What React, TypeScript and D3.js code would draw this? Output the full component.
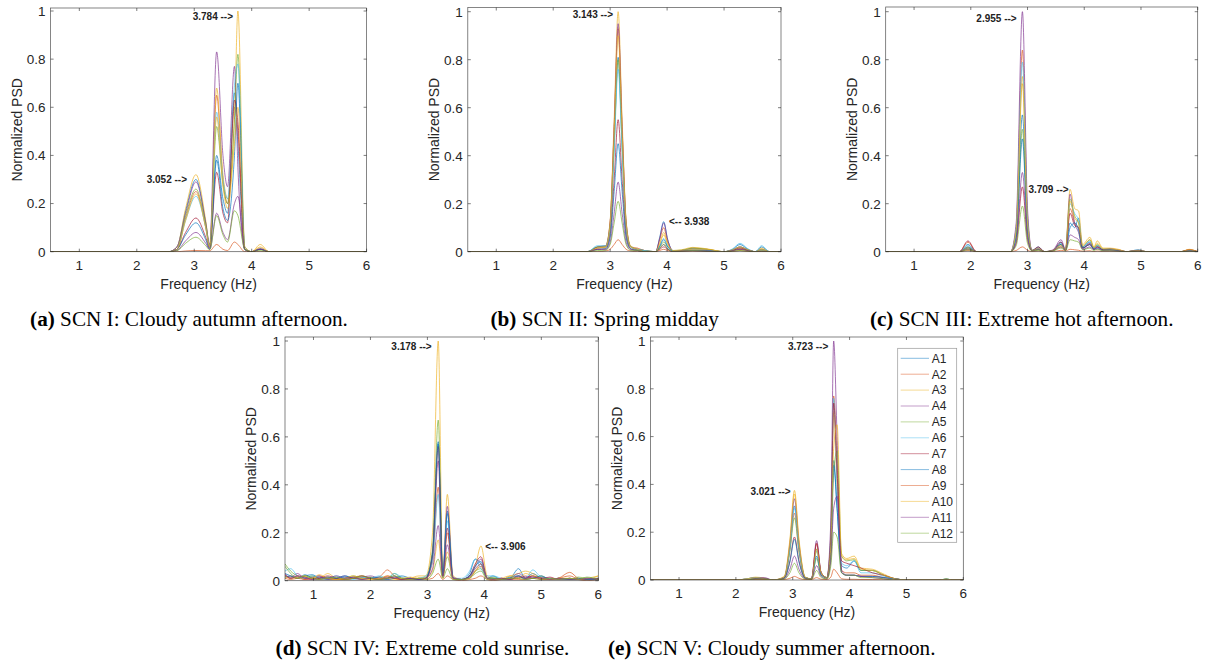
import * as d3 from "d3";
import React from "react";

// series names + MATLAB default colour order
const seriesNames = ["A1", "A2", "A3", "A4", "A5", "A6", "A7", "A8", "A9", "A10", "A11", "A12"];
const lineColors = ["#0072BD", "#D95319", "#EDB120", "#7E2F8E", "#77AC30", "#4DBEEE", "#A2142F"];

const xTicks = [1, 2, 3, 4, 5, 6];
const yTicks = [0, 0.2, 0.4, 0.6, 0.8, 1];

// (a) SCN I
const freqA = [0.5, 2.55, 2.7, 2.85, 3.03, 3.2, 3.27, 3.39, 3.5, 3.58, 3.7, 3.76, 3.88, 4.0, 4.15, 4.3, 6];
const psdA = [
  [0, 0, 0.02, 0.17, 0.3, 0.12, 0.02, 0.4, 0.22, 0.16, 0.66, 0.45, 0.01, 0, 0.01, 0, 0],
  [0, 0, 0.01, 0.14, 0.25, 0.1, 0.02, 0.65, 0.3, 0.2, 0.6, 0.5, 0.01, 0, 0.015, 0, 0],
  [0, 0, 0.02, 0.18, 0.32, 0.13, 0.02, 0.68, 0.32, 0.22, 0.55, 1.0, 0.02, 0, 0.03, 0, 0],
  [0, 0, 0.02, 0.16, 0.29, 0.12, 0.03, 0.83, 0.4, 0.27, 0.77, 0.35, 0.01, 0, 0.01, 0, 0],
  [0, 0, 0.01, 0.15, 0.26, 0.11, 0.02, 0.52, 0.28, 0.2, 0.55, 0.82, 0.01, 0, 0.01, 0, 0],
  [0, 0, 0.01, 0.13, 0.23, 0.1, 0.02, 0.58, 0.3, 0.22, 0.69, 0.78, 0.02, 0, 0.012, 0, 0],
  [0, 0, 0.01, 0.08, 0.14, 0.06, 0.015, 0.33, 0.16, 0.12, 0.63, 0.54, 0.01, 0, 0.01, 0, 0],
  [0, 0, 0.01, 0.07, 0.12, 0.05, 0.01, 0.38, 0.18, 0.13, 0.4, 0.7, 0.01, 0, 0.01, 0, 0],
  [0, 0, 0, 0.003, 0.005, 0.004, 0.004, 0.03, 0.01, 0.005, 0.04, 0.03, 0, 0, 0, 0, 0],
  [0, 0, 0.01, 0.13, 0.24, 0.1, 0.02, 0.56, 0.27, 0.18, 0.45, 0.6, 0.02, 0, 0.02, 0, 0],
  [0, 0, 0.005, 0.045, 0.08, 0.035, 0.01, 0.16, 0.08, 0.05, 0.2, 0.23, 0.01, 0, 0.01, 0, 0],
  [0, 0, 0.004, 0.035, 0.06, 0.025, 0.008, 0.15, 0.07, 0.04, 0.17, 0.15, 0.01, 0, 0.005, 0, 0],
];
const notesA = [
  { text: "3.784 -->", f: 3.675, v: 0.979, anchor: "end" },
  { text: "3.052 -->", f: 2.874, v: 0.302, anchor: "end" },
];

// (b) SCN II
const freqB = [0.5, 2.6, 2.78, 2.92, 3.0, 3.07, 3.14, 3.21, 3.28, 3.36, 3.48, 3.6, 3.8, 3.87, 3.94, 4.01, 4.1, 4.25, 4.45, 4.7, 5.0, 5.15, 5.28, 5.42, 5.55, 5.66, 5.8, 6];
const psdB = [
  [0, 0, 0.02, 0.02, 0.105, 0.45, 0.81, 0.45, 0.105, 0.02, 0.01, 0.005, 0, 0.06, 0.125, 0.05, 0.005, 0.005, 0.012, 0.008, 0, 0.01, 0.03, 0.01, 0, 0.02, 0, 0],
  [0, 0, 0.015, 0.02, 0.12, 0.51, 0.93, 0.51, 0.12, 0.02, 0.015, 0.005, 0, 0.05, 0.1, 0.04, 0.005, 0.005, 0.015, 0.01, 0, 0.008, 0.02, 0.008, 0, 0.01, 0, 0],
  [0, 0, 0.02, 0.025, 0.13, 0.55, 1.0, 0.55, 0.13, 0.025, 0.01, 0.005, 0, 0.03, 0.07, 0.03, 0.005, 0.008, 0.018, 0.012, 0, 0.006, 0.015, 0.006, 0, 0.015, 0, 0],
  [0, 0, 0.02, 0.025, 0.125, 0.52, 0.95, 0.52, 0.125, 0.02, 0.01, 0.005, 0, 0.055, 0.12, 0.05, 0.005, 0.005, 0.01, 0.006, 0, 0.004, 0.01, 0.004, 0, 0.005, 0, 0],
  [0, 0, 0.02, 0.02, 0.105, 0.44, 0.8, 0.44, 0.105, 0.02, 0.01, 0.005, 0, 0.02, 0.04, 0.02, 0.005, 0.006, 0.015, 0.01, 0, 0.005, 0.01, 0.005, 0, 0.005, 0, 0],
  [0, 0, 0.025, 0.025, 0.1, 0.42, 0.76, 0.42, 0.1, 0.02, 0.01, 0.005, 0, 0.025, 0.055, 0.025, 0.005, 0.004, 0.01, 0.006, 0, 0.012, 0.035, 0.012, 0, 0.025, 0, 0],
  [0, 0, 0.01, 0.012, 0.07, 0.3, 0.55, 0.3, 0.07, 0.012, 0.005, 0, 0, 0.01, 0.02, 0.01, 0, 0.003, 0.005, 0.003, 0, 0.005, 0.015, 0.005, 0, 0, 0, 0],
  [0, 0, 0.01, 0.012, 0.06, 0.25, 0.45, 0.25, 0.06, 0.012, 0.005, 0, 0, 0.022, 0.05, 0.02, 0.003, 0.003, 0.005, 0.003, 0, 0.007, 0.02, 0.007, 0, 0.01, 0, 0],
  [0, 0, 0, 0.003, 0.01, 0.03, 0.05, 0.03, 0.01, 0.003, 0, 0, 0, 0.005, 0.01, 0.005, 0, 0, 0, 0, 0, 0, 0.005, 0, 0, 0, 0, 0],
  [0, 0, 0.015, 0.02, 0.12, 0.5, 0.9, 0.5, 0.12, 0.02, 0.01, 0, 0, 0.035, 0.08, 0.035, 0.005, 0.005, 0.01, 0.01, 0, 0.008, 0.02, 0.008, 0, 0.01, 0, 0],
  [0, 0, 0.01, 0.008, 0.04, 0.16, 0.29, 0.16, 0.04, 0.008, 0.005, 0, 0, 0.014, 0.03, 0.012, 0, 0.003, 0.005, 0.002, 0, 0.004, 0.01, 0.004, 0, 0, 0, 0],
  [0, 0, 0.005, 0.006, 0.03, 0.12, 0.21, 0.12, 0.03, 0.006, 0.005, 0, 0, 0.014, 0.03, 0.012, 0, 0.002, 0.005, 0.002, 0, 0.002, 0.005, 0.002, 0, 0, 0, 0],
];
const notesB = [
  { text: "3.143 -->", f: 3.05, v: 0.989, anchor: "end" },
  { text: "<-- 3.938", f: 4.033, v: 0.124, anchor: "start" },
];

// (c) SCN III
const freqC = [0.5, 1.8, 1.95, 2.1, 2.7, 2.8, 2.91, 3.0, 3.08, 3.19, 3.3, 3.45, 3.59, 3.67, 3.75, 3.83, 3.9, 3.97, 4.1, 4.17, 4.23, 4.33, 4.45, 4.6, 4.75, 4.95, 5.1, 5.7, 5.85, 6];
const psdC = [
  [0, 0, 0.03, 0, 0, 0.07, 0.57, 0.1, 0.005, 0.02, 0, 0.005, 0.04, 0.005, 0.12, 0.1, 0.14, 0.02, 0.04, 0.015, 0.025, 0.01, 0.012, 0.005, 0, 0.008, 0, 0, 0.005, 0],
  [0, 0, 0.04, 0, 0, 0.1, 0.84, 0.15, 0.005, 0.015, 0, 0.005, 0.03, 0.005, 0.18, 0.12, 0.1, 0.015, 0.03, 0.012, 0.02, 0.008, 0.01, 0.008, 0, 0.006, 0, 0, 0.008, 0],
  [0, 0, 0.015, 0, 0, 0.09, 0.73, 0.13, 0.005, 0.01, 0, 0.005, 0.02, 0.008, 0.26, 0.18, 0.17, 0.03, 0.06, 0.02, 0.045, 0.015, 0.015, 0.01, 0, 0.005, 0, 0, 0.01, 0],
  [0, 0, 0.02, 0, 0, 0.12, 1.0, 0.18, 0.005, 0.012, 0, 0.008, 0.05, 0.01, 0.24, 0.12, 0.08, 0.015, 0.03, 0.01, 0.02, 0.008, 0.012, 0.006, 0, 0.005, 0, 0, 0.005, 0],
  [0, 0, 0.02, 0, 0, 0.06, 0.51, 0.09, 0.005, 0.01, 0, 0.005, 0.03, 0.008, 0.22, 0.15, 0.12, 0.02, 0.05, 0.015, 0.03, 0.01, 0.01, 0.005, 0, 0.004, 0, 0, 0.006, 0],
  [0, 0, 0.025, 0, 0, 0.1, 0.79, 0.14, 0.005, 0.015, 0, 0.005, 0.035, 0.008, 0.2, 0.16, 0.13, 0.02, 0.045, 0.012, 0.025, 0.01, 0.01, 0.006, 0, 0.005, 0, 0, 0.004, 0],
  [0, 0, 0.045, 0, 0, 0.035, 0.27, 0.05, 0.005, 0.02, 0, 0.005, 0.04, 0.006, 0.16, 0.11, 0.1, 0.015, 0.035, 0.01, 0.02, 0.008, 0.008, 0.005, 0, 0.004, 0, 0, 0.008, 0],
  [0, 0, 0.015, 0, 0, 0.06, 0.47, 0.08, 0.005, 0.01, 0, 0.004, 0.03, 0.006, 0.1, 0.12, 0.09, 0.015, 0.03, 0.01, 0.015, 0.006, 0.008, 0.004, 0, 0.003, 0, 0, 0.004, 0],
  [0, 0, 0.005, 0, 0, 0.005, 0.02, 0.006, 0, 0.003, 0, 0, 0.006, 0.003, 0.01, 0.008, 0.006, 0.002, 0.004, 0, 0.003, 0, 0, 0, 0, 0, 0, 0, 0, 0],
  [0, 0, 0.012, 0, 0, 0.09, 0.7, 0.12, 0.005, 0.012, 0, 0.005, 0.025, 0.008, 0.21, 0.14, 0.12, 0.025, 0.05, 0.018, 0.035, 0.012, 0.012, 0.008, 0, 0.005, 0, 0, 0.008, 0],
  [0, 0, 0.01, 0, 0, 0.04, 0.33, 0.06, 0.004, 0.008, 0, 0.004, 0.02, 0.005, 0.07, 0.06, 0.05, 0.01, 0.02, 0.008, 0.012, 0.005, 0.005, 0.003, 0, 0.003, 0, 0, 0.003, 0],
  [0, 0, 0.008, 0, 0, 0.025, 0.19, 0.035, 0.003, 0.006, 0, 0.003, 0.015, 0.004, 0.05, 0.045, 0.04, 0.008, 0.015, 0.005, 0.01, 0.004, 0.004, 0.002, 0, 0.002, 0, 0, 0.002, 0],
];
const notesC = [
  { text: "2.955 -->", f: 2.809, v: 0.9725, anchor: "end" },
  { text: "3.709 -->", f: 3.726, v: 0.26, anchor: "end" },
];

// (d) SCN IV
const freqD = [0.5, 0.6, 0.72, 0.85, 0.98, 1.1, 1.25, 1.4, 1.55, 1.7, 1.85, 2.0, 2.15, 2.3, 2.42, 2.55, 2.7, 2.85, 2.97, 3.09, 3.19, 3.27, 3.35, 3.45, 3.6, 3.74, 3.84, 3.94, 4.05, 4.15, 4.3, 4.45, 4.6, 4.72, 4.85, 5.0, 5.15, 5.3, 5.5, 5.65, 5.8, 6];
const psdD = [
  [0.03, 0.02, 0.01, 0.02, 0.025, 0.01, 0.005, 0.01, 0.015, 0.008, 0.012, 0.01, 0.005, 0.01, 0.02, 0.005, 0.01, 0.005, 0.01, 0.12, 0.58, 0.03, 0.29, 0.01, 0.005, 0.03, 0.09, 0.07, 0.01, 0.02, 0.005, 0.01, 0.05, 0.01, 0.03, 0.01, 0.005, 0.01, 0.005, 0.005, 0.01, 0.005],
  [0.02, 0.01, 0.015, 0.005, 0.01, 0.02, 0.01, 0.005, 0.01, 0.015, 0.02, 0.01, 0.015, 0.045, 0.02, 0.01, 0.005, 0.01, 0.01, 0.08, 0.39, 0.02, 0.2, 0.01, 0.005, 0.01, 0.04, 0.06, 0.01, 0.005, 0.01, 0.005, 0.01, 0.02, 0.01, 0.015, 0.005, 0.01, 0.035, 0.01, 0.005, 0.01],
  [0.01, 0.02, 0.01, 0.02, 0.015, 0.01, 0.03, 0.01, 0.005, 0.01, 0.01, 0.005, 0.01, 0.02, 0.01, 0.005, 0.01, 0.02, 0.02, 0.2, 1.0, 0.03, 0.36, 0.02, 0.005, 0.02, 0.06, 0.145, 0.02, 0.01, 0.005, 0.02, 0.03, 0.04, 0.03, 0.01, 0.005, 0.01, 0.005, 0.01, 0.005, 0.02],
  [0.02, 0.015, 0.03, 0.01, 0.015, 0.02, 0.005, 0.01, 0.02, 0.01, 0.015, 0.02, 0.01, 0.005, 0.01, 0.005, 0.01, 0.005, 0.01, 0.1, 0.5, 0.02, 0.31, 0.015, 0.005, 0.02, 0.06, 0.09, 0.01, 0.01, 0.005, 0.01, 0.03, 0.015, 0.02, 0.005, 0.01, 0.005, 0.01, 0.005, 0.01, 0.005],
  [0.07, 0.04, 0.02, 0.01, 0.02, 0.01, 0.015, 0.005, 0.01, 0.02, 0.01, 0.015, 0.005, 0.01, 0.03, 0.01, 0.005, 0.01, 0.015, 0.13, 0.67, 0.02, 0.1, 0.01, 0.005, 0.015, 0.04, 0.05, 0.01, 0.015, 0.005, 0.01, 0.02, 0.01, 0.01, 0.02, 0.005, 0.01, 0.005, 0.015, 0.01, 0.005],
  [0.04, 0.05, 0.02, 0.01, 0.02, 0.015, 0.01, 0.02, 0.01, 0.005, 0.015, 0.01, 0.02, 0.01, 0.03, 0.015, 0.005, 0.01, 0.02, 0.08, 0.36, 0.03, 0.25, 0.01, 0.01, 0.04, 0.09, 0.05, 0.02, 0.02, 0.01, 0.005, 0.02, 0.01, 0.045, 0.015, 0.01, 0.005, 0.01, 0.005, 0.01, 0.01],
  [0.025, 0.01, 0.02, 0.015, 0.005, 0.01, 0.02, 0.01, 0.005, 0.01, 0.02, 0.01, 0.005, 0.015, 0.01, 0.005, 0.01, 0.005, 0.01, 0.11, 0.56, 0.02, 0.22, 0.01, 0.005, 0.02, 0.07, 0.1, 0.01, 0.005, 0.01, 0.005, 0.015, 0.01, 0.02, 0.01, 0.015, 0.005, 0.01, 0.005, 0.005, 0.01],
  [0.015, 0.02, 0.01, 0.025, 0.01, 0.005, 0.015, 0.01, 0.02, 0.01, 0.005, 0.01, 0.015, 0.005, 0.01, 0.02, 0.01, 0.005, 0.01, 0.11, 0.57, 0.02, 0.28, 0.01, 0.005, 0.02, 0.06, 0.08, 0.01, 0.01, 0.005, 0.015, 0.02, 0.005, 0.01, 0.02, 0.005, 0.01, 0.005, 0.01, 0.005, 0.005],
  [0.01, 0.005, 0.01, 0.005, 0.01, 0.005, 0.01, 0.005, 0.005, 0.01, 0.005, 0.01, 0.005, 0.02, 0.01, 0.005, 0.005, 0.01, 0.005, 0.01, 0.03, 0.005, 0.02, 0.005, 0, 0.005, 0.01, 0.02, 0.005, 0, 0.005, 0.01, 0.005, 0.005, 0.01, 0.005, 0.005, 0.01, 0.02, 0.005, 0, 0.005],
  [0.02, 0.01, 0.015, 0.02, 0.01, 0.025, 0.01, 0.005, 0.01, 0.02, 0.01, 0.005, 0.01, 0.01, 0.005, 0.01, 0.015, 0.01, 0.01, 0.04, 0.17, 0.01, 0.12, 0.01, 0.005, 0.01, 0.04, 0.07, 0.01, 0.005, 0.01, 0.02, 0.01, 0.03, 0.02, 0.01, 0.005, 0.01, 0.01, 0.005, 0.01, 0.02],
  [0.03, 0.01, 0.02, 0.01, 0.005, 0.015, 0.01, 0.02, 0.01, 0.015, 0.005, 0.01, 0.005, 0.01, 0.015, 0.005, 0.01, 0.005, 0.01, 0.05, 0.23, 0.015, 0.15, 0.01, 0.005, 0.015, 0.05, 0.07, 0.01, 0.005, 0.01, 0.005, 0.02, 0.01, 0.015, 0.01, 0.005, 0.01, 0.005, 0.005, 0.01, 0.005],
  [0.06, 0.03, 0.01, 0.02, 0.01, 0.005, 0.01, 0.015, 0.005, 0.01, 0.02, 0.01, 0.005, 0.01, 0.02, 0.01, 0.005, 0.01, 0.005, 0.03, 0.09, 0.01, 0.05, 0.005, 0.005, 0.01, 0.03, 0.04, 0.005, 0.01, 0.005, 0.01, 0.01, 0.005, 0.01, 0.005, 0.01, 0.005, 0.01, 0.005, 0.015, 0.005],
];
const notesD = [
  { text: "3.178 -->", f: 3.075, v: 0.976, anchor: "end" },
  { text: "<-- 3.906", f: 4.016, v: 0.142, anchor: "start" },
];

// (e) SCN V
const freqE = [0.5, 2.0, 2.2, 2.35, 2.5, 2.65, 2.85, 2.95, 3.03, 3.11, 3.22, 3.33, 3.42, 3.5, 3.6, 3.67, 3.72, 3.78, 3.86, 3.95, 4.08, 4.2, 4.4, 4.6, 4.8, 5.0, 5.6, 5.7, 5.8, 6];
const psdE = [
  [0, 0, 0.005, 0.01, 0.005, 0, 0.01, 0.14, 0.31, 0.14, 0.01, 0.005, 0.13, 0.03, 0.01, 0.12, 0.5, 0.3, 0.06, 0.05, 0.08, 0.04, 0.04, 0.02, 0.005, 0, 0, 0.005, 0, 0],
  [0, 0, 0, 0.005, 0.005, 0, 0.01, 0.13, 0.28, 0.12, 0.01, 0.005, 0.15, 0.03, 0.01, 0.2, 0.77, 0.5, 0.04, 0.03, 0.03, 0.02, 0.02, 0.01, 0.005, 0, 0, 0, 0, 0],
  [0, 0, 0.005, 0.012, 0.008, 0, 0.015, 0.17, 0.375, 0.17, 0.012, 0.005, 0.12, 0.03, 0.01, 0.16, 0.7, 0.4, 0.11, 0.09, 0.1, 0.05, 0.045, 0.025, 0.005, 0, 0, 0.005, 0, 0],
  [0, 0, 0.005, 0.01, 0.01, 0, 0.012, 0.15, 0.34, 0.15, 0.01, 0.005, 0.165, 0.03, 0.01, 0.25, 1.0, 0.6, 0.04, 0.02, 0.02, 0.015, 0.015, 0.01, 0.005, 0, 0, 0, 0, 0],
  [0, 0, 0.004, 0.008, 0.005, 0, 0.01, 0.12, 0.26, 0.12, 0.01, 0.005, 0.09, 0.02, 0.01, 0.1, 0.45, 0.54, 0.1, 0.08, 0.085, 0.04, 0.04, 0.02, 0.005, 0, 0, 0.004, 0, 0],
  [0, 0, 0.005, 0.01, 0.005, 0, 0.01, 0.13, 0.3, 0.13, 0.01, 0.005, 0.12, 0.03, 0.01, 0.19, 0.76, 0.4, 0.07, 0.06, 0.08, 0.03, 0.03, 0.015, 0.005, 0, 0, 0.005, 0, 0],
  [0, 0, 0, 0.005, 0.005, 0, 0.008, 0.08, 0.18, 0.08, 0.008, 0.005, 0.155, 0.03, 0.01, 0.18, 0.74, 0.45, 0.08, 0.07, 0.06, 0.05, 0.03, 0.02, 0.005, 0, 0, 0, 0, 0],
  [0, 0, 0, 0.005, 0.005, 0, 0.008, 0.075, 0.17, 0.075, 0.008, 0.005, 0.1, 0.02, 0.01, 0.12, 0.48, 0.3, 0.03, 0.02, 0.02, 0.015, 0.015, 0.01, 0.005, 0, 0, 0.003, 0, 0],
  [0, 0, 0, 0.002, 0.002, 0, 0.002, 0.007, 0.015, 0.007, 0.002, 0.002, 0.01, 0.003, 0.002, 0.012, 0.045, 0.03, 0.005, 0.003, 0.003, 0.002, 0.002, 0.001, 0, 0, 0, 0, 0, 0],
  [0, 0, 0.005, 0.01, 0.005, 0, 0.012, 0.16, 0.36, 0.16, 0.012, 0.005, 0.13, 0.03, 0.01, 0.14, 0.55, 0.65, 0.1, 0.085, 0.09, 0.045, 0.04, 0.02, 0.005, 0, 0, 0.004, 0, 0],
  [0, 0, 0, 0.005, 0.005, 0, 0.005, 0.045, 0.1, 0.045, 0.005, 0.003, 0.06, 0.015, 0.005, 0.08, 0.3, 0.35, 0.03, 0.02, 0.02, 0.015, 0.01, 0.005, 0, 0, 0, 0, 0, 0],
  [0, 0, 0, 0.004, 0.004, 0, 0.004, 0.03, 0.07, 0.03, 0.004, 0.003, 0.04, 0.01, 0.005, 0.06, 0.2, 0.18, 0.03, 0.02, 0.02, 0.01, 0.01, 0.005, 0, 0, 0, 0, 0, 0],
];
const notesE = [
  { text: "3.723 -->", f: 3.625, v: 0.979, anchor: "end" },
  { text: "3.021 -->", f: 2.964, v: 0.372, anchor: "end" },
];

const captions = [
  { tag: "(a)", text: " SCN I: Cloudy autumn afternoon." },
  { tag: "(b)", text: " SCN II: Spring midday" },
  { tag: "(c)", text: " SCN III: Extreme hot afternoon." },
  { tag: "(d)", text: " SCN IV: Extreme cold sunrise." },
  { tag: "(e)", text: " SCN V: Cloudy summer afternoon." },
];

const SANS = "'Liberation Sans', Arial, sans-serif";
const SERIF = "'Liberation Serif', 'Times New Roman', serif";
const AXIS = "#262626";

function Panel({ id, box, freq, psd, notes, caption, legend = false }) {
  const x = d3.scaleLinear().domain([0.5, 6]).range([box.left, box.right]);
  const y = d3.scaleLinear().domain([0, 1]).range([box.y0, box.y1]);
  const line = d3
    .line()
    .x((_, i) => x(freq[i]))
    .y((v) => y(v))
    .curve(d3.curveMonotoneX);
  const clipId = `clip-${id}`;
  const midY = (box.top + box.y0) / 2;
  const midX = (box.left + box.right) / 2;

  return (
    <g>
      <defs>
        <clipPath id={clipId}>
          <rect x={box.left} y={box.top} width={box.right - box.left} height={box.y0 - box.top} />
        </clipPath>
      </defs>
      <rect x={box.left} y={box.top} width={box.right - box.left} height={box.y0 - box.top} fill="#fff" />
      <g clipPath={`url(#${clipId})`}>
        {psd.map((row, i) => (
          <path
            key={i}
            d={line(row.slice(0, freq.length))}
            fill="none"
            stroke={lineColors[i % lineColors.length]}
            strokeWidth={0.8}
            strokeOpacity={0.85}
          />
        ))}
      </g>
      <rect
        x={box.left}
        y={box.top}
        width={box.right - box.left}
        height={box.y0 - box.top}
        fill="none"
        stroke={AXIS}
        strokeWidth={0.7}
        strokeOpacity={0.8}
      />
      {xTicks.map((t) => (
        <g key={`x${t}`}>
          <line x1={x(t)} x2={x(t)} y1={box.y0} y2={box.y0 - 3} stroke={AXIS} strokeWidth={0.6} />
          <line x1={x(t)} x2={x(t)} y1={box.top} y2={box.top + 3} stroke={AXIS} strokeWidth={0.6} />
          <text x={x(t)} y={box.y0 + 18.3} textAnchor="middle" fontFamily={SANS} fontSize={13.5} fill={AXIS}>
            {t}
          </text>
        </g>
      ))}
      {yTicks.map((t) => (
        <g key={`y${t}`}>
          <line x1={box.left} x2={box.left + 3} y1={y(t)} y2={y(t)} stroke={AXIS} strokeWidth={0.6} />
          <line x1={box.right} x2={box.right - 3} y1={y(t)} y2={y(t)} stroke={AXIS} strokeWidth={0.6} />
          <text x={box.left - 5} y={y(t)} dy="0.36em" textAnchor="end" fontFamily={SANS} fontSize={13.5} fill={AXIS}>
            {t}
          </text>
        </g>
      ))}
      <text
        transform={`translate(${box.left - 29},${midY}) rotate(-90)`}
        textAnchor="middle"
        fontFamily={SANS}
        fontSize={14}
        fill={AXIS}
      >
        Normalized PSD
      </text>
      <text x={midX} y={box.y0 + 37} textAnchor="middle" fontFamily={SANS} fontSize={14} fill={AXIS}>
        Frequency (Hz)
      </text>
      {notes.map((n) => (
        <text
          key={n.text}
          x={x(n.f)}
          y={y(n.v)}
          dy="0.35em"
          textAnchor={n.anchor}
          fontFamily={SANS}
          fontWeight="bold"
          fontSize={10}
          fill="#222"
        >
          {n.text}
        </text>
      ))}
      {legend && <Legend right={box.right} top={box.top} />}
      <text x={box.capX} y={box.capY} textAnchor="middle" fontFamily={SERIF} fontSize={21.2} fill="#000">
        <tspan fontWeight="bold">{caption.tag}</tspan>
        {caption.text}
      </text>
    </g>
  );
}

function Legend({ right, top }) {
  const x0 = right - 65.6;
  const y0 = top + 11.3;
  const rowH = 15.9;
  return (
    <g>
      <rect x={x0} y={y0} width={59} height={194} fill="#fff" stroke="#999" strokeWidth={0.7} />
      {seriesNames.map((name, i) => {
        const cy = y0 + 10 + i * rowH;
        return (
          <g key={name}>
            <line
              x1={x0 + 3}
              x2={x0 + 31.3}
              y1={cy}
              y2={cy}
              stroke={lineColors[i % lineColors.length]}
              strokeWidth={0.8}
              strokeOpacity={0.6}
            />
            <text x={x0 + 34} y={cy} dy="0.36em" fontFamily={SANS} fontSize={12} fill={AXIS}>
              {name}
            </text>
          </g>
        );
      })}
    </g>
  );
}

export default function App() {
  const panels = [
    { id: "a", box: { left: 50.6, right: 366.6, top: 8, y1: 11, y0: 251.7, capX: 189, capY: 326 }, freq: freqA, psd: psdA, notes: notesA },
    { id: "b", box: { left: 467.8, right: 781, top: 7.5, y1: 11.7, y0: 251.7, capX: 604.7, capY: 326 }, freq: freqB, psd: psdB, notes: notesB },
    { id: "c", box: { left: 885.7, right: 1197.7, top: 7, y1: 11.7, y0: 251.7, capX: 1021.7, capY: 326 }, freq: freqC, psd: psdC, notes: notesC },
    { id: "d", box: { left: 285, right: 598.3, top: 337, y1: 341, y0: 580.7, capX: 422.5, capY: 655 }, freq: freqD, psd: psdD, notes: notesD },
    { id: "e", box: { left: 650.6, right: 963.3, top: 337, y1: 341, y0: 580, capX: 771.7, capY: 655 }, freq: freqE, psd: psdE, notes: notesE },
  ];
  return (
    <svg
      width={1207}
      height={664}
      viewBox="0 0 1207 664"
      style={{ position: "absolute", left: 0, top: 0, background: "#fff" }}
    >
      <rect width={1207} height={664} fill="#fff" />
      {panels.map((p, i) => (
        <Panel key={p.id} {...p} caption={captions[i]} legend={p.id === "e"} />
      ))}
    </svg>
  );
}
